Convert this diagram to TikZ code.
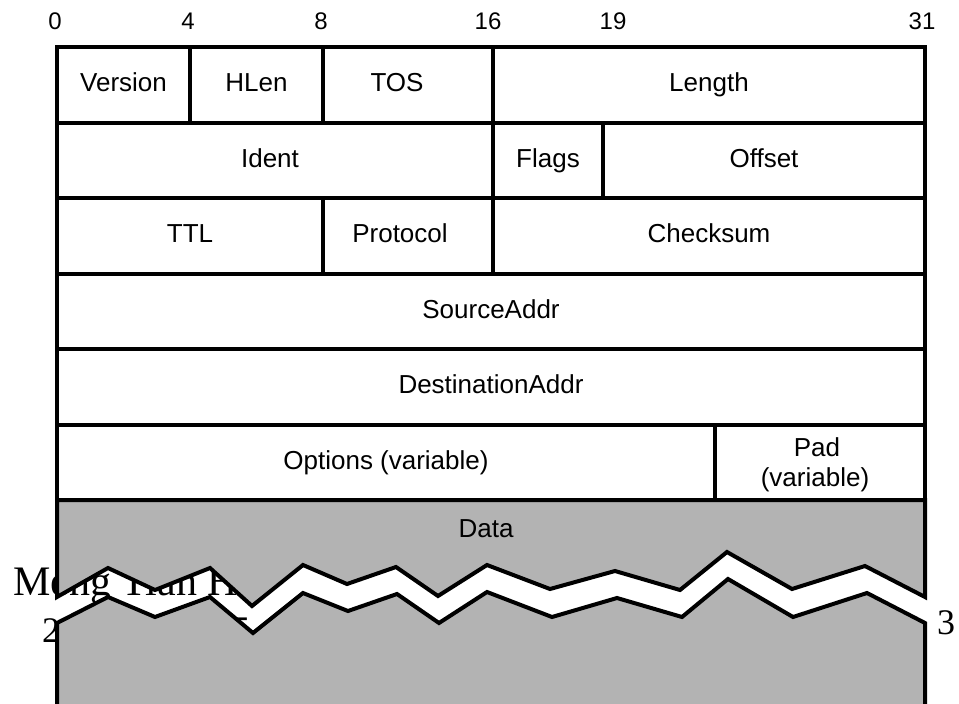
\documentclass[tikz,border=0pt]{standalone}
\usepackage{fontspec}
\newfontfamily\sansf{Liberation Sans}
\newfontfamily\seriff{Liberation Serif}
\definecolor{datagray}{RGB}{179,179,179}
\begin{document}
\begin{tikzpicture}[x=1pt,y=-1pt,
  field/.style={draw=black, line width=4pt, inner sep=0pt, outer sep=0pt,
    anchor=north west, minimum height=75.5pt,
    font=\sansf\fontsize{26}{30}\selectfont, text height=18.6pt, text depth=5pt},
  fieldtext/.style={anchor=base, inner sep=0pt, font=\sansf\fontsize{26}{30}\selectfont},
  bitnum/.style={anchor=base, inner sep=0pt, font=\sansf\fontsize{24}{28}\selectfont},
  bgtext/.style={anchor=base west, inner sep=0pt, text=black},
  brk/.style={draw=black, line width=4pt}
]
\useasboundingbox (0,0) rectangle (959,704);

% background texts (partly covered by the data area)
\node[bgtext, font=\seriff\fontsize{42}{48}\selectfont] (author) at (13,595) {Meng Tian Hu};
\node[bgtext, font=\seriff\fontsize{36}{40}\selectfont] (pga) at (42,642) {2};
\node[bgtext, font=\seriff\fontsize{36}{40}\selectfont] (pgb) at (232,641) {5};
\node[bgtext, font=\seriff\fontsize{36}{40}\selectfont] (pgc) at (937,634) {3};

% data area, upper piece
\filldraw[fill=datagray, brk] (57,500) -- (925,500) -- (925,597)
  -- (865,566) -- (792,589) -- (727,552) -- (680,590) -- (615,571) -- (550,589)
  -- (487,565) -- (438,596) -- (396,567) -- (347,584) -- (303,565) -- (252,606)
  -- (210,568) -- (155,590) -- (108,568) -- (57,597) -- cycle;

% data area, lower piece
\fill[datagray] (57,720) -- (57,623) -- (108,597) -- (155,617) -- (210,597)
  -- (253,633) -- (303,593) -- (348,611) -- (397,594) -- (439,623) -- (487,592)
  -- (552,617) -- (617,598) -- (682,617) -- (728,579) -- (793,617) -- (867,593)
  -- (925,623) -- (925,720) -- cycle;
\draw[brk] (57,720) -- (57,623) -- (108,597) -- (155,617) -- (210,597)
  -- (253,633) -- (303,593) -- (348,611) -- (397,594) -- (439,623) -- (487,592)
  -- (552,617) -- (617,598) -- (682,617) -- (728,579) -- (793,617) -- (867,593)
  -- (925,623) -- (925,720);

\node[fieldtext] (data) at (486,537) {Data};

% bit numbers
\node[bitnum] (b0) at (55,30) {0};
\node[bitnum] (b4) at (188,30) {4};
\node[bitnum] (b8) at (321,30) {8};
\node[bitnum] (b16) at (488,30) {16};
\node[bitnum] (b19) at (613,30) {19};
\node[bitnum] (b31) at (922,30) {31};

% row 1
\node[field, minimum width=133pt] (version) at (57,47) {Version};
\node[field, minimum width=133pt] (hlen) at (190,47) {HLen};
\node[field, minimum width=170pt] (tos) at (323,47) {TOS\hspace*{22pt}};
\node[field, minimum width=432pt] (length) at (493,47) {Length};
% row 2
\node[field, minimum width=436pt] (ident) at (57,122.5) {Ident\hspace*{10pt}};
\node[field, minimum width=110pt] (flags) at (493,122.5) {Flags};
\node[field, minimum width=322pt] (offset) at (603,122.5) {Offset};
% row 3
\node[field, minimum width=266pt] (ttl) at (57,198) {TTL};
\node[field, minimum width=170pt] (protocol) at (323,198) {Protocol\hspace*{16pt}};
\node[field, minimum width=432pt] (checksum) at (493,198) {Checksum};
% rows 4, 5
\node[field, minimum width=868pt] (srcaddr) at (57,273.5) {SourceAddr};
\node[field, minimum width=868pt] (dstaddr) at (57,349) {DestinationAddr};
% row 6
\node[field, minimum width=658pt] (options) at (57,424.5) {Options (variable)};
\node[field, minimum width=210pt] (pad) at (715,424.5) {};
\node[fieldtext] (padline1) at (817,456.3) {Pad};
\node[fieldtext] (padline2) at (815,486.3) {(variable)};
\end{tikzpicture}
\end{document}
